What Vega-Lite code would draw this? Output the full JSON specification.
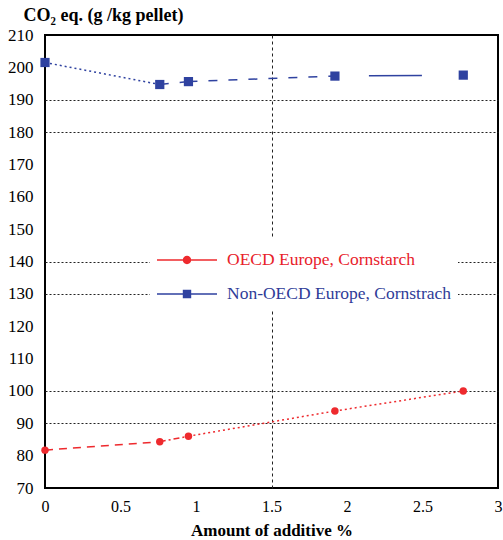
{
  "$schema": "https://vega.github.io/schema/vega-lite/v6.json",
  "width": 453,
  "height": 453,
  "autosize": {"type": "none"},
  "padding": {"left": 45, "top": 35, "right": 5, "bottom": 52},
  "background": "white",
  "config": {
    "font": "Liberation Serif",
    "view": {"stroke": "#000", "strokeWidth": 2}
  },
  "resolve": {"legend": {"color": "independent"}},
  "datasets": {
    "pts": [
      {"series": "OECD Europe, Cornstarch", "x": 0, "y": 81.7},
      {"series": "OECD Europe, Cornstarch", "x": 0.76, "y": 84.3},
      {"series": "OECD Europe, Cornstarch", "x": 0.95, "y": 86.0},
      {"series": "OECD Europe, Cornstarch", "x": 1.92, "y": 93.8},
      {"series": "OECD Europe, Cornstarch", "x": 2.77, "y": 100.0},
      {"series": "Non-OECD Europe, Cornstrach", "x": 0, "y": 201.5},
      {"series": "Non-OECD Europe, Cornstrach", "x": 0.76, "y": 194.7},
      {"series": "Non-OECD Europe, Cornstrach", "x": 0.95, "y": 195.6},
      {"series": "Non-OECD Europe, Cornstrach", "x": 1.92, "y": 197.3},
      {"series": "Non-OECD Europe, Cornstrach", "x": 2.77, "y": 197.6}
    ],
    "segs": [
      {"seg": "r1", "series": "OECD Europe, Cornstarch", "x": 0, "y": 81.7},
      {"seg": "r1", "series": "OECD Europe, Cornstarch", "x": 0.76, "y": 84.3},
      {"seg": "r2", "series": "OECD Europe, Cornstarch", "x": 0.76, "y": 84.3},
      {"seg": "r2", "series": "OECD Europe, Cornstarch", "x": 0.95, "y": 86.0},
      {"seg": "r3", "series": "OECD Europe, Cornstarch", "x": 0.95, "y": 86.0},
      {"seg": "r3", "series": "OECD Europe, Cornstarch", "x": 1.92, "y": 93.8},
      {"seg": "r4", "series": "OECD Europe, Cornstarch", "x": 1.92, "y": 93.8},
      {"seg": "r4", "series": "OECD Europe, Cornstarch", "x": 2.77, "y": 100.0},
      {"seg": "b1", "series": "Non-OECD Europe, Cornstrach", "x": 0, "y": 201.5},
      {"seg": "b1", "series": "Non-OECD Europe, Cornstrach", "x": 0.76, "y": 194.7},
      {"seg": "b2", "series": "Non-OECD Europe, Cornstrach", "x": 0.76, "y": 194.7},
      {"seg": "b2", "series": "Non-OECD Europe, Cornstrach", "x": 0.95, "y": 195.6},
      {"seg": "b3", "series": "Non-OECD Europe, Cornstrach", "x": 0.95, "y": 195.6},
      {"seg": "b3", "series": "Non-OECD Europe, Cornstrach", "x": 1.92, "y": 197.3},
      {"seg": "b4", "series": "Non-OECD Europe, Cornstrach", "x": 1.92, "y": 197.3},
      {"seg": "b4", "series": "Non-OECD Europe, Cornstrach", "x": 2.77, "y": 197.6}
    ]
  },
  "encoding": {
    "x": {
      "field": "x", "type": "quantitative",
      "scale": {"domain": [0, 3], "nice": false},
      "axis": {
        "values": [0, 0.5, 1, 1.5, 2, 2.5, 3],
        "format": "~g",
        "title": "Amount of additive %",
        "domain": false,
        "ticks": false,
        "labelFont": "Liberation Serif",
        "labelFontSize": 16,
        "labelColor": "#000",
        "labelPadding": 10,
        "labelFlush": false,
        "labelOverlap": false,
        "titleFont": "Liberation Serif",
        "titleFontSize": 17,
        "titleFontWeight": "bold",
        "titleColor": "#000",
        "titlePadding": 8,
        "grid": true,
        "gridColor": "#222",
        "gridDash": [3, 3],
        "gridWidth": 1,
        "gridOpacity": {"condition": {"test": "datum.value === 1.5", "value": 1}, "value": 0}
      }
    },
    "y": {
      "field": "y", "type": "quantitative",
      "scale": {"domain": [70, 210], "nice": false},
      "axis": {
        "values": [70, 80, 90, 100, 110, 120, 130, 140, 150, 160, 170, 180, 190, 200, 210],
        "title": "CO₂ eq. (g /kg pellet)",
        "titleAngle": 0,
        "titleAlign": "left",
        "titleBaseline": "alphabetic",
        "titleX": -22,
        "titleY": -15,
        "titleFont": "Liberation Serif",
        "titleFontSize": 18,
        "titleFontWeight": "bold",
        "titleColor": "#000",
        "domain": false,
        "ticks": false,
        "labelFont": "Liberation Serif",
        "labelFontSize": 17,
        "labelColor": "#000",
        "labelPadding": 12,
        "labelOverlap": false,
        "grid": true,
        "gridColor": "#222",
        "gridDash": [2, 2],
        "gridWidth": 1,
        "gridOpacity": {"condition": {"test": "indexof([90,100,130,140,180,190], datum.value) >= 0", "value": 1}, "value": 0}
      }
    }
  },
  "layer": [
    {
      "data": {"name": "segs"},
      "mark": {"type": "line", "strokeWidth": 1.5},
      "encoding": {
        "color": {
          "field": "series", "type": "nominal",
          "scale": {"domain": ["OECD Europe, Cornstarch", "Non-OECD Europe, Cornstrach"], "range": ["#ee2a2e", "#2f42a0"]},
          "legend": null
        },
        "detail": {"field": "seg"},
        "strokeDash": {
          "field": "seg", "type": "nominal",
          "scale": {"domain": ["r1", "r2", "r3", "r4", "b1", "b2", "b3", "b4"], "range": [[8, 6], [6, 3, 2, 3], [2, 3], [2, 3], [2, 3], [9, 11], [9, 11], [0, 34, 53, 60]]},
          "legend": null
        }
      }
    },
    {
      "data": {"name": "pts"},
      "transform": [{"filter": "datum.series === 'Non-OECD Europe, Cornstrach'"}],
      "mark": {"type": "square", "size": 85, "opacity": 1},
      "encoding": {
        "color": {"field": "series", "type": "nominal", "legend": null}
      }
    },
    {
      "data": {"name": "pts"},
      "transform": [{"filter": "datum.series === 'OECD Europe, Cornstarch'"}],
      "mark": {"type": "circle", "size": 55, "opacity": 1},
      "encoding": {
        "color": {
          "field": "series", "type": "nominal",
          "legend": {
            "title": null,
            "orient": "none",
            "legendX": 105,
            "legendY": 203,
            "fillColor": "white",
            "padding": 6,
            "symbolSize": 900,
            "symbolType": {"expr": "datum.value === 'OECD Europe, Cornstarch' ? 'M-1,-0.05H3V0.05H-1Z M0.72,0A0.28,0.28 0 1,1 1.28,0A0.28,0.28 0 1,1 0.72,0Z' : 'M-1,-0.05H3V0.05H-1Z M0.72,-0.28H1.28V0.28H0.72Z'"},
            "labelColor": {"expr": "datum.value === 'OECD Europe, Cornstarch' ? '#e8212a' : '#2f3c98'"},
            "labelFont": "Liberation Serif",
            "labelFontSize": 17.5,
            "labelOffset": 39,
            "labelLimit": 320,
            "rowPadding": 9
          }
        }
      }
    }
  ]
}
